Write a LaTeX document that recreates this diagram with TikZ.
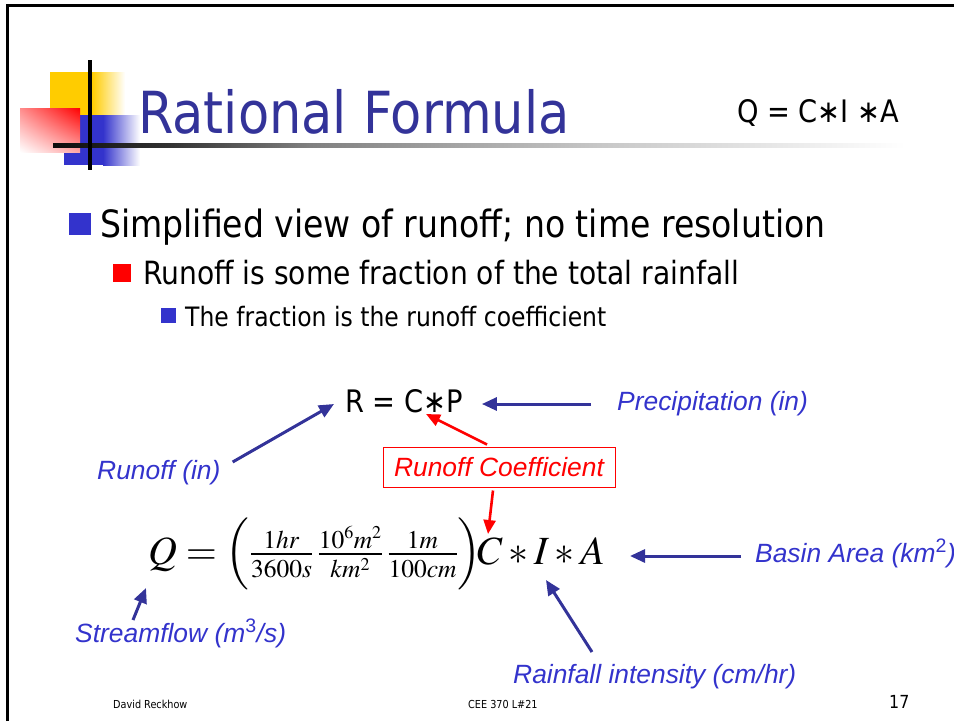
\documentclass[tikz,border=0pt]{standalone}
\usepackage{mathptmx}
\usepackage[no-math]{fontspec}
\usepackage{tikz}
\usetikzlibrary{arrows.meta,positioning,calc,shadings}
\newfontfamily\tahoma{DejaVu Sans}[FakeStretch=0.88]
\newfontfamily\arial{Liberation Sans}
\definecolor{titleblue}{RGB}{51,51,153}
\definecolor{arrowblue}{RGB}{51,51,153}
\definecolor{lblblue}{RGB}{51,51,204}
\definecolor{logoblue}{RGB}{51,51,204}
\definecolor{logoyellow}{RGB}{255,204,0}
\newcommand{\fsz}[1]{\fontsize{#1}{#1}\selectfont}
\DeclareMathSizes{40}{40}{25.5}{18}
\pgfdeclarehorizontalshading{rulefade}{100bp}{color(0bp)=(black); color(25bp)=(black!95);
  color(32bp)=(black!80); color(40bp)=(black!50); color(57bp)=(black!22);
  color(75bp)=(white); color(100bp)=(white)}
\tikzset{
  tah/.style={font=\tahoma\fsz{#1}, inner sep=0pt, anchor=base west},
  lbl/.style={font=\arial\itshape\fsz{26.4}, text=lblblue, inner sep=0pt, anchor=base west},
  bluearrow/.style={-{Triangle[length=15pt,width=13pt]}, line width=3pt, arrowblue},
  redarrow/.style={-{Triangle[length=14pt,width=12pt]}, line width=2.6pt, red},
}

\begin{document}
\begin{tikzpicture}[x=1pt, y=-1pt]
  \useasboundingbox (0,0) rectangle (954,721);
  % Slide frame
  \draw[line width=2.5pt] (7.5,721) -- (7.5,5.5) -- (954,5.5);
  % Logo squares
  \fill[logoyellow] (50,72) rectangle (92,115);
  \shade[left color=logoyellow, right color=white] (92,72) rectangle (125,115);
  \fill[logoblue] (64,115) rectangle (103,165);
  \shade[left color=logoblue, right color=white] (103,115) rectangle (140,165);
  \shade[upper left=red!45, upper right=red, lower left=white, lower right=red!35]
    (20,108) rectangle (80,152);
  % Title rule and cross
  \shade[shading=rulefade] (53,143) rectangle (905,147);
  \draw[line width=4pt] (89.5,60) -- (89.5,170);
  \node[tah=58, text=titleblue] (title) at (138,133) {Rational Formula};
  \node[tah=31] (qcia) at (737,122) {Q = C∗I ∗A};
  % Bullets
  \fill[logoblue] (69,213) rectangle (91,235);
  \node[tah=37.6] (b1) at (100,237) {Simplified view of runoff; no time resolution};
  \fill[red] (113,264) rectangle (131,282);
  \node[tah=32] (b2) at (143,284) {Runoff is some fraction of the total rainfall};
  \fill[logoblue] (161,308) rectangle (176,323);
  \node[tah=26.7] (b3) at (185,326) {The fraction is the runoff coefficient};
  % Runoff relation
  \node[tah=31] (rcp) at (345,412) {R = C∗P};
  \node[lbl] (prec) at (617,410) {Precipitation (in)};
  \node[lbl] (runoff) at (97,479) {Runoff (in)};
  \node[draw=red, line width=1pt, text=red, font=\arial\itshape\fsz{26.4},
    minimum width=232pt, minimum height=40pt, inner sep=0pt] (coef) at (499,467) {Runoff Coefficient};
  % Streamflow formula
  \node[anchor=base west, inner sep=0pt, font=\fsz{40}] (qform) at (148,564)
    {$Q = \Bigl(\frac{1hr}{3600s}\,\frac{10^6m^2}{km^2}\,\frac{1m}{100cm}\Bigr)\!C * I * A$};
  \coordinate (tipQ) at (146,588);
  \coordinate (tipC) at (488,534);
  \coordinate (tipI) at (546,580);
  \coordinate (tipA) at (630,556);
  \node[lbl] (basin) at (755,562) {Basin Area (km\textsuperscript{\upshape 2})};
  \node[lbl] (stream) at (75,642) {Streamflow (m\textsuperscript{\upshape 3}/s)};
  \node[lbl] (rain) at (513,683) {Rainfall intensity (cm/hr)};
  % Arrows
  \draw[bluearrow] ([shift={(12,-17)}]runoff.base east) -- ([shift={(-11,-8)}]rcp.base west);
  \draw[bluearrow] ([shift={(-26,-6)}]prec.base west) -- ([shift={(19,-8)}]rcp.base east);
  \draw[redarrow] ([shift={(-12,-2)}]coef.north) -- ([shift={(81,2)}]rcp.base west);
  \draw[redarrow] ([shift={(-6,3)}]coef.south) -- (tipC);
  \draw[bluearrow] ([shift={(-14,-6)}]basin.base west) -- (tipA);
  \draw[bluearrow] ([shift={(58,-22)}]stream.base west) -- (tipQ);
  \draw[bluearrow] ([shift={(79,-31)}]rain.base west) -- (tipI);
  % Footer
  \node[tah=11] (author) at (113,708) {David Reckhow};
  \node[tah=11] (course) at (468,708) {CEE 370 L\#21};
  \node[tah=18] (page) at (889,708) {17};
\end{tikzpicture}
\end{document}
